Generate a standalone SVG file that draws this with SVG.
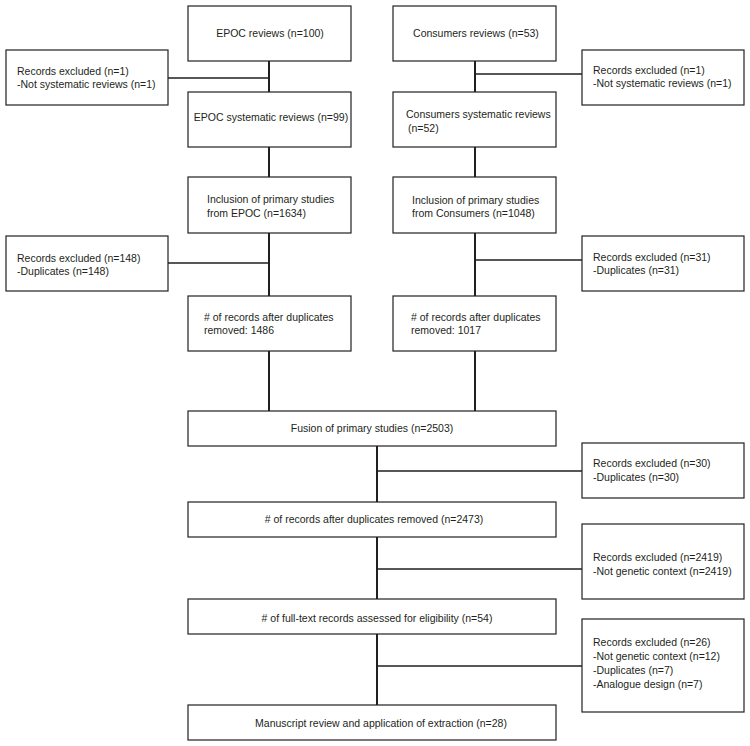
<svg xmlns="http://www.w3.org/2000/svg" width="750" height="746" viewBox="0 0 750 746">
<style>
.box{fill:#ffffff;stroke:#231f20;stroke-width:1.2}
.t{font-family:"Liberation Sans",Arial,sans-serif;font-size:10.5px;fill:#231f20}
.c{text-anchor:middle}
.v{stroke:#231f20;stroke-width:2;fill:none}
.h{stroke:#231f20;stroke-width:1.5;fill:none}
</style>
<rect width="750" height="746" fill="#ffffff"/>
<g id="connectors">
<path class="v" d="M269 61V92M269 147V177M269 233V296M269 351V411"/>
<path class="v" d="M475 61V92M475 147V177M475 233V296M475 351V411"/>
<path class="v" d="M377 446V502M377 537V599M377 634V705"/>
<path class="h" d="M168 78H269M168 263H269"/>
<path class="h" d="M475 74H582M475 260H582"/>
<path class="h" d="M377 471H582M377 569H582M377 666H582"/>
</g>
<g id="epoc-reviews"><rect class="box" x="188" y="6" width="163" height="55"/><text class="t c" x="270" y="37">EPOC reviews (n=100)</text></g>
<g id="epoc-excluded"><rect class="box" x="6" y="50" width="162" height="55"/><text class="t" x="17" y="75">Records excluded (n=1)</text><text class="t" x="17" y="88">-Not systematic reviews (n=1)</text></g>
<g id="epoc-systematic"><rect class="box" x="188" y="92" width="163" height="55"/><text class="t c" x="271" y="121">EPOC systematic reviews (n=99)</text></g>
<g id="epoc-inclusion"><rect class="box" x="188" y="177" width="163" height="56"/><text class="t" x="207" y="203">Inclusion of primary studies</text><text class="t" x="207" y="217">from EPOC (n=1634)</text></g>
<g id="epoc-dup-excluded"><rect class="box" x="6" y="236" width="162" height="55"/><text class="t" x="17" y="262">Records excluded (n=148)</text><text class="t" x="17" y="275">-Duplicates (n=148)</text></g>
<g id="epoc-after-dup"><rect class="box" x="188" y="296" width="163" height="55"/><text class="t" x="204" y="321">&#35; of records after duplicates</text><text class="t" x="204" y="334">removed: 1486</text></g>
<g id="cons-reviews"><rect class="box" x="393" y="6" width="163" height="55"/><text class="t c" x="476" y="37">Consumers reviews (n=53)</text></g>
<g id="cons-excluded"><rect class="box" x="582" y="50" width="162" height="55"/><text class="t" x="593" y="74">Records excluded (n=1)</text><text class="t" x="593" y="87">-Not systematic reviews (n=1)</text></g>
<g id="cons-systematic"><rect class="box" x="393" y="92" width="163" height="55"/><text class="t" x="406" y="118">Consumers systematic reviews</text><text class="t" x="408" y="132">(n=52)</text></g>
<g id="cons-inclusion"><rect class="box" x="393" y="177" width="163" height="56"/><text class="t" x="412" y="204">Inclusion of primary studies</text><text class="t" x="412" y="217">from Consumers (n=1048)</text></g>
<g id="cons-dup-excluded"><rect class="box" x="582" y="236" width="162" height="55"/><text class="t" x="593" y="261">Records excluded (n=31)</text><text class="t" x="593" y="274">-Duplicates (n=31)</text></g>
<g id="cons-after-dup"><rect class="box" x="393" y="296" width="163" height="55"/><text class="t" x="411" y="321">&#35; of records after duplicates</text><text class="t" x="411" y="334">removed: 1017</text></g>
<g id="fusion"><rect class="box" x="188" y="411" width="368" height="35"/><text class="t c" x="372" y="432">Fusion of primary studies (n=2503)</text></g>
<g id="fusion-excluded"><rect class="box" x="582" y="443" width="162" height="55"/><text class="t" x="593" y="467">Records excluded (n=30)</text><text class="t" x="593" y="481">-Duplicates (n=30)</text></g>
<g id="after-dup"><rect class="box" x="188" y="502" width="368" height="35"/><text class="t c" x="374" y="523">&#35; of records after duplicates removed (n=2473)</text></g>
<g id="genetic-excluded"><rect class="box" x="582" y="524" width="162" height="75"/><text class="t" x="593" y="561">Records excluded (n=2419)</text><text class="t" x="593" y="575">-Not genetic context (n=2419)</text></g>
<g id="full-text"><rect class="box" x="188" y="599" width="368" height="35"/><text class="t c" x="377" y="622">&#35; of full-text records assessed for eligibility (n=54)</text></g>
<g id="full-text-excluded"><rect class="box" x="582" y="619" width="162" height="93"/><text class="t" x="593" y="646">Records excluded (n=26)</text><text class="t" x="593" y="660">-Not genetic context (n=12)</text><text class="t" x="593" y="674">-Duplicates (n=7)</text><text class="t" x="593" y="688">-Analogue design (n=7)</text></g>
<g id="manuscript"><rect class="box" x="188" y="705" width="368" height="35"/><text class="t c" x="381" y="727">Manuscript review and application of extraction (n=28)</text></g>
</svg>
